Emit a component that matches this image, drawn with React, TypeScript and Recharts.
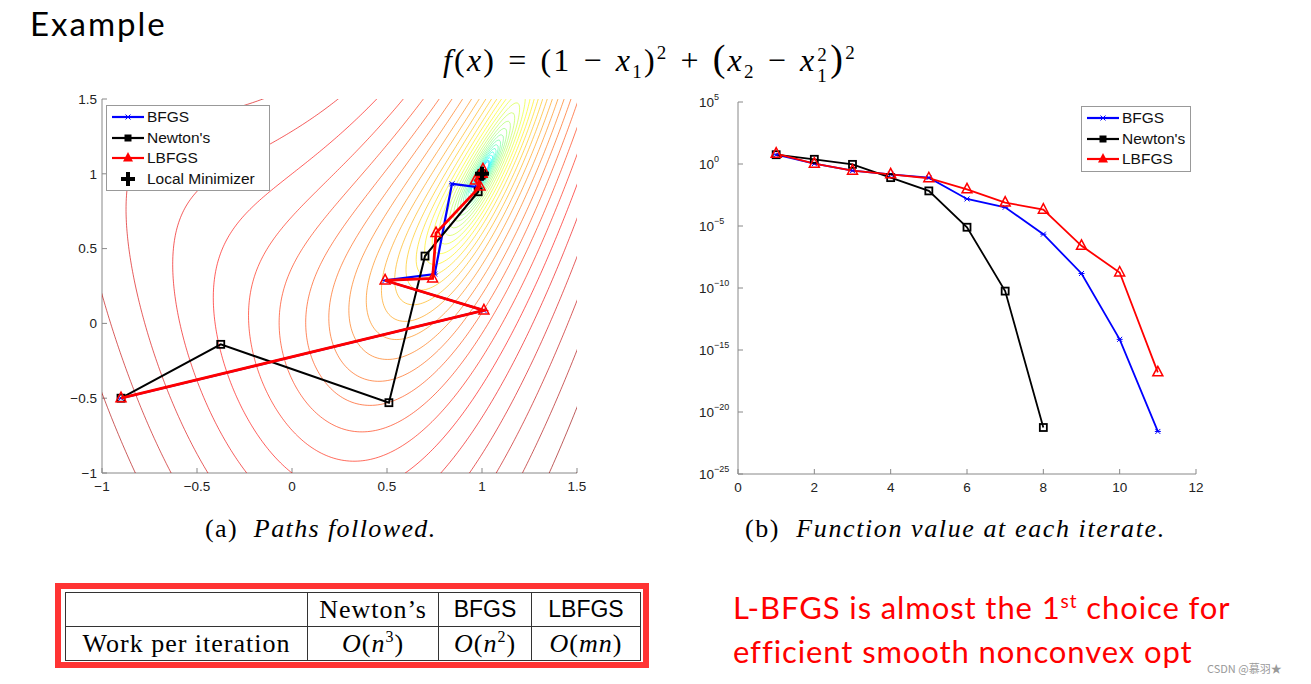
import React from 'react';
import { ScatterChart, Scatter, LineChart, Line, XAxis, YAxis, Legend } from 'recharts';

// (a) paths followed, [x1, x2] per iterate
const BFGS_PATH = [[-0.9, -0.5], [1.01, 0.087], [0.49, 0.287], [0.751, 0.33], [0.842, 0.933], [0.974, 0.911], [0.99, 0.97], [1.0, 1.0], [1, 1], [1, 1], [1, 1]];
const NEWTON_PATH = [[-0.9, -0.5], [-0.375, -0.14], [0.51, -0.53], [0.7, 0.45], [0.98, 0.88], [0.995, 0.99], [1, 1], [1, 1]];
const LBFGS_PATH = [[-0.9, -0.5], [1.01, 0.087], [0.49, 0.287], [0.74, 0.3], [0.758, 0.604], [0.99, 0.915], [0.965, 0.955], [1.005, 1.03], [1, 1], [1, 1], [1, 1]];
const MINIMIZER = [[1, 1]];
const PATH_TICKS = [-1, -0.5, 0, 0.5, 1, 1.5];

// contour levels of f (roughly log spaced)
const CONTOUR_LEVELS = [0.00135, 0.00178, 0.00236, 0.00313, 0.00414, 0.00548, 0.00726, 0.0096, 0.0127, 0.0169, 0.0223, 0.0296, 0.0392, 0.0519, 0.0687, 0.091, 0.12, 0.16, 0.211, 0.28, 0.371, 0.491, 0.65, 0.861, 1.14, 1.51, 2.0, 2.65, 3.51, 4.65, 6.15, 8.15, 10.8];

// (b) log10 f at each iterate
const ITERATIONS = [1, 2, 3, 4, 5, 6, 7, 8, 9, 10, 11];
const BFGS_LOGF = [0.75, 0.03, -0.54, -0.83, -1.1, -2.82, -3.49, -5.66, -8.83, -14.14, -21.57];
const NEWTON_LOGF = [0.75, 0.38, -0.03, -1.1, -2.17, -5.1, -10.25, -21.25];
const LBFGS_LOGF = [0.83, 0.03, -0.54, -0.83, -1.15, -2.04, -3.11, -3.68, -6.6, -8.75, -16.8];
const ITER_TICKS = [0, 2, 4, 6, 8, 10, 12];
const EXP_TICKS = [-25, -20, -15, -10, -5, 0, 5];

const toPts = (arr: number[][]) => arr.map(([x, y]) => ({ x, y }));

const fnData = ITERATIONS.map((it, i) => ({
  it,
  bfgs: BFGS_LOGF[i],
  newton: NEWTON_LOGF[i],
  lbfgs: LBFGS_LOGF[i],
}));

// level sets of f(x) = (1-x1)^2 + (x2-x1^2)^2, split into pieces inside the window
function buildContours() {
  const out: { c: number; pts: { x: number; y: number }[] }[] = [];
  for (const c of CONTOUR_LEVELS) {
    const r = Math.sqrt(c);
    const N = 4000;
    let run: { x: number; y: number }[] = [];
    let last: { x: number; y: number } | null = null;
    for (let i = 0; i <= N; i++) {
      const th = (2 * Math.PI * i) / N;
      const x = 1 - r * Math.cos(th);
      const y = x * x + r * Math.sin(th);
      const inside = x > -1.1 && x < 1.6 && y > -1.1 && y < 1.6;
      if (inside) {
        if (!last || Math.hypot((x - last.x) * 190, (y - last.y) * 150) > 2.5 || i === N) {
          run.push({ x, y });
          last = { x, y };
        }
      } else if (run.length) {
        out.push({ c, pts: run });
        run = [];
        last = null;
      }
    }
    if (run.length > 1) out.push({ c, pts: run });
  }
  return out;
}
const contours = buildContours();

function jet(c: number) {
  const t = (Math.log10(c) + 4.8) / 5.85;
  const cl = (v: number) => Math.max(0, Math.min(1, v));
  const r = cl(1.5 - Math.abs(4 * t - 3));
  const g = cl(1.5 - Math.abs(4 * t - 2));
  const b = cl(1.5 - Math.abs(4 * t - 1));
  return `rgb(${Math.round(r * 255)},${Math.round(g * 255)},${Math.round(b * 255)})`;
}

const Square = ({ cx, cy }: any) => (
  <rect x={cx - 3.5} y={cy - 3.5} width={7} height={7} fill="none" stroke="#000" strokeWidth={1.8} />
);
const Tri = ({ cx, cy, s = 10 }: any) => (
  <path d={`M${cx},${cy - s * 0.6}L${cx + s / 2},${cy + s * 0.35}L${cx - s / 2},${cy + s * 0.35}Z`} fill="none" stroke="#f00" strokeWidth={1.5} />
);
const Star = ({ cx, cy }: any) => (
  <path d={`M${cx - 2.5},${cy - 2.5}L${cx + 2.5},${cy + 2.5}M${cx - 2.5},${cy + 2.5}L${cx + 2.5},${cy - 2.5}M${cx - 3},${cy}L${cx + 3},${cy}`} stroke="#00f" strokeWidth={1} />
);
const Plus = ({ cx, cy }: any) => (
  <path d={`M${cx - 7},${cy}H${cx + 7}M${cx},${cy - 7}V${cy + 7}`} stroke="#000" strokeWidth={4} />
);

const tickFont = { fontFamily: '"Liberation Sans", Arial, sans-serif', fontSize: 13.5, fill: '#222' };

const legendBox = (rows: { label: string; color: string; marker: (cx: number, cy: number) => React.ReactNode; noLine?: boolean }[], w: number) => (
  <div style={{ border: '1px solid #999', background: '#fff', width: w, padding: '1px 0', boxSizing: 'border-box' }}>
    {rows.map((r) => (
      <div key={r.label} style={{ display: 'flex', alignItems: 'center', height: 20.5 }}>
        <svg width={40} height={20} style={{ flex: 'none' }}>
          {!r.noLine && <line x1={5} y1={10} x2={37} y2={10} stroke={r.color} strokeWidth={2.2} />}
          {r.marker(21, 10)}
        </svg>
        <span style={{ fontFamily: '"Liberation Sans", Arial, sans-serif', fontSize: 15.5, color: '#111', whiteSpace: 'nowrap' }}>{r.label}</span>
      </div>
    ))}
  </div>
);

const ExpTick = ({ x, y, payload }: any) => (
  <text x={x - 34} y={y + 5} textAnchor="start" {...tickFont}>
    <tspan>10</tspan>
    <tspan dy={-7} fontSize={9}>{String(payload.value).replace('-', '−')}</tspan>
  </text>
);

function PathsChart() {
  return (
    <ScatterChart width={600} height={510} margin={{ top: 99, right: 23, bottom: 7, left: 62 }}>
      <XAxis type="number" dataKey="x" domain={[-1, 1.5]} ticks={PATH_TICKS} allowDataOverflow
        stroke="#888" tick={tickFont} tickSize={-5} tickMargin={13} height={30}
        tickFormatter={(v) => String(v).replace('-', '−')} />
      <YAxis type="number" dataKey="y" domain={[-1, 1.5]} ticks={PATH_TICKS} allowDataOverflow
        stroke="#888" tick={tickFont} tickSize={-5} tickMargin={10} width={40}
        tickFormatter={(v) => String(v).replace('-', '−')} />
      {contours.map((k, i) => (
        <Scatter key={'c' + i} data={k.pts} fill={jet(k.c)} legendType="none" isAnimationActive={false}
          line={{ stroke: jet(k.c), strokeWidth: 0.8, strokeOpacity: 0.8 }} shape={() => <g />} />
      ))}
      <Scatter name="BFGS" data={toPts(BFGS_PATH)} fill="#00f" isAnimationActive={false}
        line={{ stroke: '#00f', strokeWidth: 2.2 }} shape={(p: any) => <Star cx={p.cx} cy={p.cy} />} />
      <Scatter name="Newton's" data={toPts(NEWTON_PATH)} fill="#000" isAnimationActive={false}
        line={{ stroke: '#000', strokeWidth: 2 }} shape={(p: any) => <Square cx={p.cx} cy={p.cy} />} />
      <Scatter name="LBFGS" data={toPts(LBFGS_PATH)} fill="#f00" isAnimationActive={false}
        line={{ stroke: '#f00', strokeWidth: 2.8 }} shape={(p: any) => <Tri cx={p.cx} cy={p.cy} />} />
      <Scatter name="Local Minimizer" data={toPts(MINIMIZER)} fill="#000" isAnimationActive={false}
        shape={(p: any) => <Plus cx={p.cx} cy={p.cy} />} />
      <Legend layout="vertical" align="center" verticalAlign="middle"
        wrapperStyle={{ left: 106, top: 105, width: 164, height: 86 }}
        content={() => legendBox([
          { label: 'BFGS', color: '#00f', marker: (x, y) => <Star cx={x} cy={y} /> },
          { label: "Newton's", color: '#000', marker: (x, y) => <rect x={x - 3.5} y={y - 3.5} width={7} height={7} fill="#000" /> },
          { label: 'LBFGS', color: '#f00', marker: (x, y) => <path d={`M${x},${y - 6}L${x + 5},${y + 3.5}L${x - 5},${y + 3.5}Z`} fill="#f00" /> },
          { label: 'Local Minimizer', color: '#000', noLine: true, marker: (x, y) => <Plus cx={x} cy={y} /> },
        ], 164)} />
    </ScatterChart>
  );
}

function FunctionChart() {
  const dot = (Shape: any) => (p: any) =>
    p.value == null || p.cy == null ? <g key={p.index} /> : <Shape key={p.index} cx={p.cx} cy={p.cy} />;
  return (
    <LineChart width={600} height={510} data={fnData} margin={{ top: 102, right: 44, bottom: 6, left: 43 }}>
      <XAxis type="number" dataKey="it" domain={[0, 12]} ticks={ITER_TICKS} stroke="#888" tick={tickFont}
        tickSize={-5} tickMargin={13} height={30} />
      <YAxis type="number" domain={[-25, 5]} ticks={EXP_TICKS} stroke="#888" tick={<ExpTick />}
        tickSize={-5} tickMargin={10} width={55} />
      <Line dataKey="bfgs" stroke="#00f" strokeWidth={1.8} dot={dot(Star)} isAnimationActive={false} />
      <Line dataKey="newton" stroke="#000" strokeWidth={1.8} dot={dot(Square)} isAnimationActive={false} />
      <Line dataKey="lbfgs" stroke="#f00" strokeWidth={1.8} dot={dot((p: any) => <Tri {...p} s={10} />)} isAnimationActive={false} />
      <Legend layout="vertical" align="center" verticalAlign="middle"
        wrapperStyle={{ left: 441, top: 106, width: 110, height: 66 }}
        content={() => legendBox([
          { label: 'BFGS', color: '#00f', marker: (x, y) => <Star cx={x} cy={y} /> },
          { label: "Newton's", color: '#000', marker: (x, y) => <rect x={x - 3.5} y={y - 3.5} width={7} height={7} fill="#000" /> },
          { label: 'LBFGS', color: '#f00', marker: (x, y) => <path d={`M${x},${y - 6}L${x + 5},${y + 3.5}L${x - 5},${y + 3.5}Z`} fill="#f00" /> },
        ], 110)} />
    </LineChart>
  );
}

const serif = '"Liberation Serif", "Times New Roman", serif';
const cell: React.CSSProperties = { border: '1.5px solid #333', textAlign: 'center', padding: 0, fontSize: 26, fontFamily: serif, letterSpacing: 1 };
const op: React.CSSProperties = { margin: '0 12px' };
const small: React.CSSProperties = { fontSize: 19 };

export default function App() {
  return (
    <div style={{ position: 'absolute', left: 0, top: 0, width: 1311, height: 684, background: '#fff', overflow: 'hidden' }}>
      <div style={{ position: 'absolute', left: 30, top: 3, fontFamily: 'Lato, "Open Sans", sans-serif', fontSize: 33, letterSpacing: 2, color: '#000' }}>Example</div>

      <div style={{ position: 'absolute', left: 443, top: 36, fontFamily: serif, fontSize: 32, letterSpacing: 2.2, color: '#000', whiteSpace: 'nowrap' }}>
        <i>f</i>(<i>x</i>)<span style={op}>=</span>(1<span style={op}>−</span><i>x</i>
        <sub style={small}>1</sub>)<sup style={small}>2</sup><span style={op}>+</span>
        <span style={{ fontSize: 38 }}>(</span><i>x</i><sub style={small}>2</sub><span style={op}>−</span><i>x</i>
        <span style={{ position: 'relative', display: 'inline-block', width: 14, height: 0 }}>
          <span style={{ ...small, position: 'absolute', left: 1, top: -27 }}>2</span>
          <span style={{ ...small, position: 'absolute', left: 1, top: -6 }}>1</span>
        </span>
        <span style={{ fontSize: 38 }}>)</span><sup style={small}>2</sup>
      </div>

      <div style={{ position: 'absolute', left: 0, top: 0 }}><PathsChart /></div>
      <div style={{ position: 'absolute', left: 640, top: 0 }}><FunctionChart /></div>

      <div style={{ position: 'absolute', left: 205, top: 514, fontFamily: serif, fontSize: 26, letterSpacing: 1.4, whiteSpace: 'nowrap' }}>
        (a)&nbsp;&nbsp;<i>Paths followed.</i>
      </div>
      <div style={{ position: 'absolute', left: 745, top: 514, fontFamily: serif, fontSize: 26, letterSpacing: 1.6, whiteSpace: 'nowrap' }}>
        (b)&nbsp;&nbsp;<i>Function value at each iterate.</i>
      </div>

      <div style={{ position: 'absolute', left: 55, top: 583, width: 594, height: 85, border: '6px solid #ff3333', boxSizing: 'border-box' }} />
      <table style={{ position: 'absolute', left: 65, top: 592, width: 575, height: 68, borderCollapse: 'collapse', tableLayout: 'fixed' }}>
        <colgroup><col style={{ width: 242 }} /><col style={{ width: 131 }} /><col style={{ width: 93 }} /><col style={{ width: 109 }} /></colgroup>
        <tbody>
          <tr style={{ height: 34 }}>
            <td style={cell}></td>
            <td style={cell}>Newton’s</td>
            <td style={{ ...cell, fontFamily: '"Liberation Sans", Arial, sans-serif', fontSize: 23, letterSpacing: 0 }}>BFGS</td>
            <td style={{ ...cell, fontFamily: '"Liberation Sans", Arial, sans-serif', fontSize: 23, letterSpacing: 0 }}>LBFGS</td>
          </tr>
          <tr style={{ height: 34 }}>
            <td style={cell}>Work per iteration</td>
            <td style={cell}><i>O</i>(<i>n</i><sup style={{ fontSize: 16 }}>3</sup>)</td>
            <td style={cell}><i>O</i>(<i>n</i><sup style={{ fontSize: 16 }}>2</sup>)</td>
            <td style={cell}><i>O</i>(<i>mn</i>)</td>
          </tr>
        </tbody>
      </table>

      <div style={{ position: 'absolute', left: 733, top: 579, fontFamily: 'Lato, "Open Sans", sans-serif', fontSize: 31, letterSpacing: 0.9, lineHeight: '44px', color: '#f00', whiteSpace: 'nowrap' }}>
        L-BFGS is almost the 1<sup style={{ fontSize: 19 }}>st</sup> choice for<br />efficient smooth nonconvex opt
      </div>
      <div style={{ position: 'absolute', left: 1207, top: 660, fontFamily: '"Noto Sans CJK SC", sans-serif', fontSize: 11, color: '#999' }}>CSDN @慕羽★</div>
    </div>
  );
}
